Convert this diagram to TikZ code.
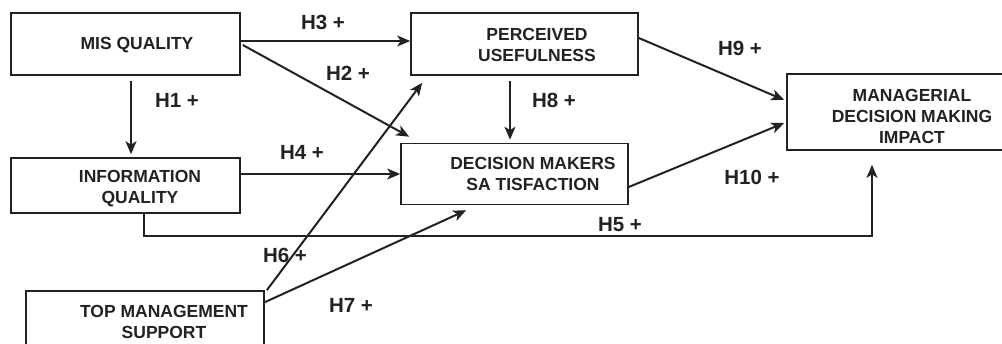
\documentclass[tikz,border=0pt]{standalone}
\usepackage{fontspec}
\setmainfont{Liberation Sans}
\usetikzlibrary{arrows.meta,calc}
\definecolor{ink}{RGB}{34,34,34}
\begin{document}
\begin{tikzpicture}[x=1pt,y=-1pt,
  box/.style={draw=ink,line width=1.6pt,rectangle,inner sep=0pt},
  boxtext/.style={text=ink,font=\fontsize{17.5}{21}\selectfont\bfseries,align=center,inner sep=0pt},
  hyp/.style={text=ink,font=\fontsize{20.5}{24}\selectfont\bfseries,inner sep=0pt},
  link/.style={draw=ink,line width=2pt,-{Stealth[length=13pt,width=11pt,inset=3.5pt]}}]
\useasboundingbox (0,0) rectangle (1002,344);
% construct boxes
\node[box,minimum width=229pt,minimum height=62pt] (mis) at (125.5,44) {};
\node[box,minimum width=229pt,minimum height=55pt] (iq) at (125.5,185.5) {};
\node[box,minimum width=238pt,minimum height=62pt] (tms) at (145,322) {};
\node[box,minimum width=227pt,minimum height=62pt] (pu) at (524.5,44) {};
\node[box,minimum width=227pt,minimum height=61pt] (dms) at (514.5,174) {};
\node[box,minimum width=218pt,minimum height=76pt] (mdm) at (896,112) {};
% construct names
\node[boxtext] (mist) at (137,45) {MIS QUALITY};
\node[boxtext] (iqt) at (140,189) {INFORMATION\\QUALITY};
\node[boxtext] (tmst) at (164,322) {TOP MANAGEMENT\\SUPPORT};
\node[boxtext] (put) at (537,45) {PERCEIVED\\USEFULNESS};
\node[boxtext] (dmst) at (533,174) {DECISION MAKERS\\SA TISFACTION};
\node[boxtext] (mdmt) at (912,116) {MANAGERIAL\\DECISION MAKING\\IMPACT};
% hypothesised paths
\draw[link] ($(mis.east)+(0,-3)$) -- ($(pu.west)+(0,-3)$);
\draw[link] ($(mis.east)+(2,1)$) -- ($(dms.north west)+(9,-6)$);
\draw[link] ($(mis.south)+(5.5,5)$) -- ($(iq.north)+(5.5,-3)$);
\draw[link] (iq.east |- dms.west) -- (dms.west);
\draw[link] ($(iq.south)+(18.5,0)$) -- ++(0,22) -| ($(mdm.south)+(-24,14)$);
\draw[link] ($(tms.north east)+(2,0)$) -- ($(pu.south west)+(12,7)$);
\draw[link] ($(tms.north east)+(0,12)$) -- ($(dms.south west)+(66,5)$);
\draw[link] ($(pu.south)+(-14.5,5)$) -- ($(dms.north)+(-4.5,-3)$);
\draw[link] ($(pu.east)+(0,-6)$) -- ($(mdm.west)+(-2,-12)$);
\draw[link] ($(dms.east)+(0,13)$) -- ($(mdm.west)+(-2,11)$);
% path labels
\node[hyp] (h1) at (177,100) {H1 +};
\node[hyp] (h2) at (348,73) {H2 +};
\node[hyp] (h3) at (323,22) {H3 +};
\node[hyp] (h4) at (302,152) {H4 +};
\node[hyp] (h5) at (620,225) {H5 +};
\node[hyp] (h6) at (285,255) {H6 +};
\node[hyp] (h7) at (351,305) {H7 +};
\node[hyp] (h8) at (554,100) {H8 +};
\node[hyp] (h9) at (740,48) {H9 +};
\node[hyp] (h10) at (752,177) {H10 +};
\end{tikzpicture}
\end{document}
